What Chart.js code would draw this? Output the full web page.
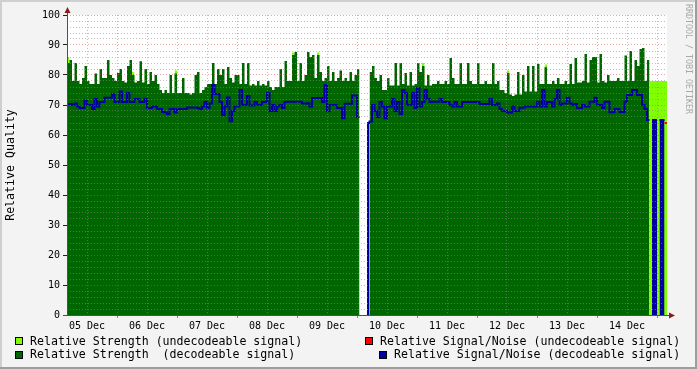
<!DOCTYPE html>
<html>
<head>
<meta charset="utf-8">
<script src="https://cdn.jsdelivr.net/npm/chart.js@4.4.1/dist/chart.umd.min.js"></script>
<style>
  html, body { margin: 0; padding: 0; background: #f3f3f3; }
  canvas { display: block; }
</style>
</head>
<body>
<canvas id="chart" width="697" height="369"></canvas>
<script>
// hour 0 = 05 Dec 04:00, one value per hour, null = no data
const dayLabels = ["05 Dec", "06 Dec", "07 Dec", "08 Dec", "09 Dec",
                   "10 Dec", "11 Dec", "12 Dec", "13 Dec", "14 Dec"];

const seriesLabels = [
  "Relative Strength (undecodeable signal)",
  "Relative Strength  (decodeable signal)",
  "Relative Signal/Noise (undecodeable signal)",
  "Relative Signal/Noise (decodeable signal)"
];

const strengthDecodable = [
  84, 85, 78, 84, 78, 77, 79, 83, 78, 77,
  77, 80.5, 77, 82, 79, 79, 85, 80, 79, 78,
  80.7, 82, 78, 77.5, 83, 85, 80, 77.5, 78, 84.6,
  77.5, 82, 77, 81, 78, 80, 77, 75, 74, 75,
  74, 80, 74, 80.5, 74, 74, 79, 74, 74, 73.5,
  74, 80, 81, 74, 75, 76, 77, 77, 84, 77,
  82, 80, 82, 77, 82.7, 79, 77.5, 80, 80, 77,
  84, 77, 84, 76.5, 77, 76.5, 78, 76.5, 77, 76.5,
  78, 76, 75, 76, 76, 82, 76, 84.7, 78, 78,
  86.7, 87.7, 78, 84, 78, 80, 87.7, 86, 86.7, 79,
  86.7, 81, 78, 79, 83, 78, 81, 78, 79, 81.5,
  78, 79, 78, 81, 78, 80, 82, null, null, null,
  null, 81, 83, 79, 78, 80, 75, 75, 79, 76.5,
  76.5, 84, 76.5, 84, 77, 80.7, 76.5, 81, 76.5, 77,
  84, 81, 83, 76.5, 80, 76.5, 77, 77, 78, 77,
  77, 78, 77, 85.7, 79, 77, 77, 84, 77, 77,
  84, 78, 77, 77, 84, 77, 77, 78, 77, 77,
  84, 77, 78, 75, 75, 74, 80.7, 73.5, 73, 73.5,
  81, 73.5, 80, 74.5, 83, 74.5, 83, 74.5, 83.7, 77,
  77, 82.6, 77, 77, 78, 77, 79, 77, 77, 78,
  77, 83.7, 77, 85.7, 77.5, 77.5, 78, 87, 77.5, 85,
  86, 86, 77.5, 87, 78, 77.5, 80, 78, 78, 78,
  79, 78, 78, 86.5, 78, 88, 78, 85, 83, 88.7,
  89, 78, 85, null, null, null, null, null, null, null
];

const snrDecodable = [
  70.3, 70.3, 70, 70.5, 69.5, 69, 69, 71.5, 70, 70,
  68.7, 72, 69.5, 71, 71, 72.4, 72.4, 72.4, 73.5, 71,
  71, 74.5, 71, 71, 74, 71, 71, 72, 72, 71,
  71, 72, 69, 69, 69.5, 69.5, 68.7, 68.7, 67.7, 67.5,
  67, 68.7, 68.7, 67.5, 68.7, 68.7, 68.7, 68.7, 69.2, 69.2,
  69.2, 69.2, 69, 68.7, 69.5, 71, 69, 70.5, 76.7, 73.7,
  73.7, 71, 66.7, 69.5, 72.5, 64.6, 68, 69.5, 69.5, 75,
  70, 70, 73, 69.8, 69.8, 71, 70, 70, 71, 71,
  74, 68, 70, 68, 69.5, 70, 69, 71, 71.1, 71.1,
  71.1, 71.1, 71.1, 71.1, 70.5, 70.5, 70.6, 69.5, 72.3, 72.3,
  72.3, 72.3, 71, 76.7, 68, 70, 70, 70, 69, 69,
  65.6, 70.4, 70.4, 70.4, 73.2, 73.2, 66, null, null, null,
  64, 64.5, 70, 68, 66, 71, 69.5, 65.6, 69.5, 69.5,
  72, 68, 71, 67, 75, 74, 70, 70, 74, 69,
  75.7, 69.5, 71, 75, 72, 71, 71.1, 71.1, 71.1, 72,
  71, 71, 71, 70, 69.5, 71, 69.5, 69.5, 71, 71,
  71, 71, 71, 71, 71, 70.3, 70.3, 70.3, 70.3, 72,
  70, 70, 70.5, 68.7, 68, 68, 67.5, 67.5, 69.5, 68,
  68, 69.1, 69.1, 69.5, 69.5, 69.5, 69.5, 69.5, 71.1, 69.5,
  75, 69.5, 71, 71, 69.5, 72, 75, 70, 70.5, 70.5,
  72.4, 70.5, 70, 70.3, 69, 69, 70, 69.5, 69.5, 71.1,
  71.1, 72.4, 70, 70, 69, 71.1, 71.1, 67.6, 67.6, 68.7,
  68.7, 67.7, 67.7, 71.1, 73.3, 73.3, 75, 75, 73.3, 73.3,
  70, 68.7, 65, null, 65, 65, null, 65, 65, null
];

// sparse series: hours and values
const undecodableHours  = [0, 26, 31, 43, 90, 100, 142, 176, 191, 233, 234, 235, 236, 237, 238, 239];
const undecodableValues = [86, 81, 81.5, 81.5, 87.5, 87.5, 84, 81.5, 83.5, 78, 78, 78, 78, 78, 78, 78];
const snrUndecHours  = [239];
const snrUndecValues = [64];

const HOURS = 240;

function dense(hours, values) {
  const arr = new Array(HOURS).fill(null);
  hours.forEach((h, i) => { arr[h] = values[i]; });
  return arr;
}

// each value holds for one hour: close every run with an end point
function toSteps(values) {
  const pts = [];
  values.forEach((v, i) => {
    if (v === null) return;
    pts.push({ x: i, y: v });
    const next = values[i + 1];
    if (next === null || next === undefined) {
      pts.push({ x: i + 1, y: v });
      pts.push({ x: i + 1, y: null });
    }
  });
  return pts;
}

const strengthUndecodable = dense(undecodableHours, undecodableValues);
const snrUndecodable = dense(snrUndecHours, snrUndecValues);
// where strength is unknown the S/N shows as a filled column
const snrColumns = snrDecodable.map((v, i) => strengthDecodable[i] === null ? v : null);

const FONT = '"DejaVu Sans Mono", monospace';
const GRID_MINOR = 'rgba(140,140,140,0.55)';
const GRID_MAJOR = 'rgba(222,80,80,0.5)';
const C_LIME = '#80ff00', C_GREEN = '#006600', C_RED = '#ff0000', C_BLUE = '#0000a0';

const frame = {
  id: 'frame',
  beforeDraw(chart) {
    const { ctx, chartArea: a } = chart;
    ctx.save();
    ctx.fillStyle = '#f3f3f3';
    ctx.fillRect(0, 0, 697, 369);
    ctx.fillStyle = '#cfcfcf';
    ctx.fillRect(0, 0, 697, 2);
    ctx.fillRect(0, 0, 2, 369);
    ctx.fillStyle = '#9e9e9e';
    ctx.fillRect(0, 367, 697, 2);
    ctx.fillRect(695, 0, 2, 369);
    ctx.fillStyle = '#ffffff';
    ctx.fillRect(a.left, a.top, a.right - a.left, a.bottom - a.top);
    ctx.restore();
  },
  afterDraw(chart) {
    const { ctx, chartArea: a } = chart;
    ctx.save();
    // axes
    ctx.strokeStyle = '#505050';
    ctx.lineWidth = 1;
    ctx.beginPath();
    ctx.moveTo(a.left + 0.5, a.bottom + 0.5);
    ctx.lineTo(a.left + 0.5, a.top - 4);
    ctx.moveTo(a.left - 4, a.bottom + 0.5);
    ctx.lineTo(a.right + 4, a.bottom + 0.5);
    ctx.stroke();
    // arrows
    ctx.fillStyle = '#8c1c1c';
    ctx.beginPath();
    ctx.moveTo(a.left + 0.5, a.top - 8);
    ctx.lineTo(a.left - 2.5, a.top - 2);
    ctx.lineTo(a.left + 3.5, a.top - 2);
    ctx.closePath();
    ctx.fill();
    ctx.beginPath();
    ctx.moveTo(a.right + 8, a.bottom + 0.5);
    ctx.lineTo(a.right + 2, a.bottom - 2.5);
    ctx.lineTo(a.right + 2, a.bottom + 3.5);
    ctx.closePath();
    ctx.fill();

    // watermark
    ctx.save();
    ctx.translate(685, 4);
    ctx.rotate(Math.PI / 2);
    ctx.fillStyle = '#a8a8a8';
    ctx.font = '8.3px ' + FONT;
    ctx.textBaseline = 'middle';
    ctx.fillText('RRDTOOL / TOBI OETIKER', 0, -3.5);
    ctx.restore();

    // legend
    const items = [
      [15, 337, C_LIME, seriesLabels[0], 30, 341.5],
      [15, 351, C_GREEN, seriesLabels[1], 30, 355],
      [365, 337, C_RED, seriesLabels[2], 380, 341.5],
      [379, 351, C_BLUE, seriesLabels[3], 394, 355]
    ];
    ctx.font = '11.6px ' + FONT;
    ctx.textBaseline = 'middle';
    items.forEach(([sx, sy, col, text, tx, ty]) => {
      ctx.fillStyle = col;
      ctx.fillRect(sx, sy, 8, 8);
      ctx.strokeStyle = '#000';
      ctx.strokeRect(sx + 0.5, sy + 0.5, 7, 7);
      ctx.fillStyle = '#000';
      ctx.fillText(text, tx, ty);
    });
    ctx.restore();
  }
};

const xGrid = [];
for (let h = 8; h < HOURS; h += 12) xGrid.push(h);
const yGrid = [];
for (let v = 0; v <= 100; v += 2) yGrid.push(v);

const isMidnight = v => (v - 20) % 24 === 0;

new Chart(document.getElementById('chart'), {
  type: 'line',
  data: {
    datasets: [
      { label: seriesLabels[2], data: toSteps(snrUndecodable), borderColor: C_RED, borderWidth: 2, fill: false, stepped: true, order: 0 },
      { label: seriesLabels[3], data: toSteps(snrDecodable), borderColor: C_BLUE, borderWidth: 2, fill: false, stepped: true, order: 1 },
      { label: 'snr columns', data: toSteps(snrColumns), borderWidth: 0, backgroundColor: C_BLUE, fill: 'origin', stepped: true, order: 2 },
      { label: seriesLabels[1], data: toSteps(strengthDecodable), borderWidth: 0, backgroundColor: C_GREEN, fill: 'origin', stepped: true, order: 3 },
      { label: seriesLabels[0], data: toSteps(strengthUndecodable), borderWidth: 0, backgroundColor: C_LIME, fill: 'origin', stepped: true, order: 4 }
    ]
  },
  options: {
    responsive: false,
    animation: false,
    devicePixelRatio: 1,
    events: [],
    layout: { padding: { left: 0, top: 15, right: 30, bottom: 32 } },
    elements: { point: { radius: 0, hoverRadius: 0 } },
    plugins: { legend: { display: false }, tooltip: { enabled: false } },
    scales: {
      x: {
        type: 'linear',
        min: 0,
        max: HOURS,
        afterBuildTicks: s => { s.ticks = xGrid.map(v => ({ value: v })); },
        afterFit: s => { s.height = 22; },
        ticks: {
          autoSkip: false,
          maxRotation: 0,
          padding: 2,
          color: '#000',
          font: { family: FONT, size: 10 },
          callback: v => (v - 8) % 24 === 0 ? dayLabels[(v - 8) / 24] : ''
        },
        grid: {
          z: 1,
          color: c => isMidnight(c.tick.value) ? GRID_MAJOR : GRID_MINOR,
          tickColor: c => isMidnight(c.tick.value) ? '#e06060' : 'rgba(0,0,0,0)',
          tickLength: 3,
          lineWidth: 1
        },
        border: { display: false, dash: [1, 2] }
      },
      y: {
        min: 0,
        max: 100,
        afterBuildTicks: s => { s.ticks = yGrid.map(v => ({ value: v })); },
        afterFit: s => { s.width = 67; },
        ticks: {
          autoSkip: false,
          padding: 3,
          color: '#000',
          font: { family: FONT, size: 10 },
          callback: v => v % 10 === 0 ? String(v) : ''
        },
        grid: {
          z: 1,
          color: c => c.tick.value % 10 === 0 ? GRID_MAJOR : GRID_MINOR,
          tickColor: c => c.tick.value % 10 === 0 ? '#202020' : 'rgba(0,0,0,0)',
          tickLength: 4,
          lineWidth: 1
        },
        border: { display: false, dash: [1, 2] },
        title: {
          display: true,
          text: 'Relative Quality',
          color: '#000',
          font: { family: FONT, size: 11.6 },
          padding: { top: 4, bottom: 0 }
        }
      }
    }
  },
  plugins: [frame]
});
</script>
</body>
</html>
